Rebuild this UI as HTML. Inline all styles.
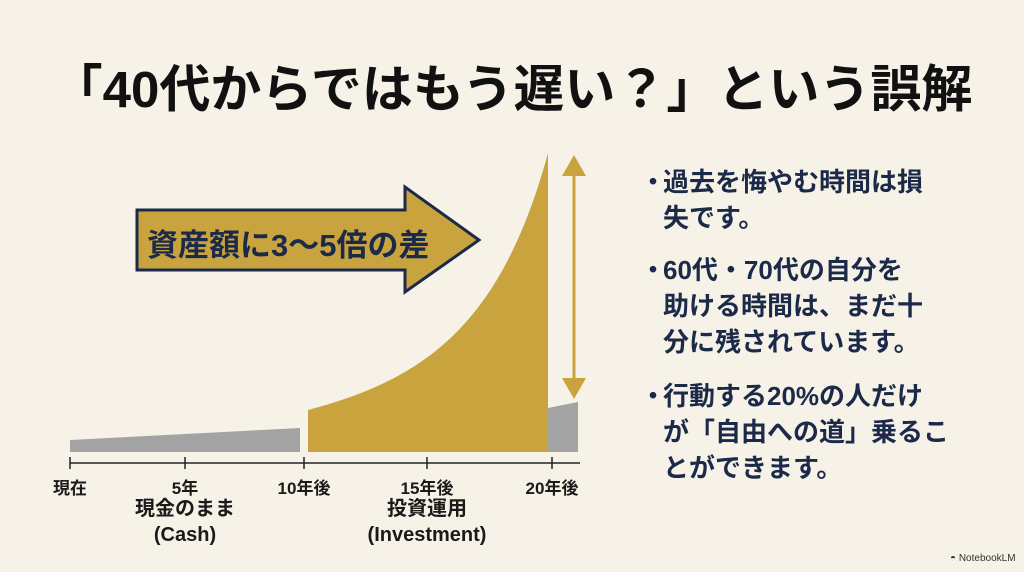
<!DOCTYPE html>
<html><head><meta charset="utf-8"><style>
body{margin:0;width:1024px;height:572px;background:#f6f2e7;overflow:hidden;font-family:"Liberation Sans","Noto Sans CJK JP",sans-serif;position:relative}
.t{position:absolute;white-space:nowrap}
#title{left:0;width:1024px;text-align:center;top:48px;font-size:51px;font-weight:bold;color:#111}
.lbl{font-size:17px;font-weight:bold;color:#1a1a1a;transform:translateX(-50%)}
.b{position:absolute;left:640px;font-size:26px;font-weight:bold;color:#1c2a4a;line-height:36px}
.b span{display:inline-block;width:23px}
</style></head><body>
<div class="t" id="title">「40代からではもう遅い？」という誤解</div>
<svg width="1024" height="572" style="position:absolute;left:0;top:0">
<polygon points="70,440 300,428 300,452 70,452" fill="#a3a3a3"/>
<path d="M308,410 C420,380 500,330 548,153 L548,452 L308,452 Z" fill="#c9a43e"/>
<polygon points="548,408 578,402 578,452 548,452" fill="#a3a3a3"/>
<line x1="70" y1="463" x2="580" y2="463" stroke="#222" stroke-width="1.5"/>
<g stroke="#222" stroke-width="1.5"><line x1="70" y1="457" x2="70" y2="469"/><line x1="185" y1="457" x2="185" y2="469"/><line x1="304" y1="457" x2="304" y2="469"/><line x1="427" y1="457" x2="427" y2="469"/><line x1="552" y1="457" x2="552" y2="469"/></g>
<line x1="574" y1="170" x2="574" y2="384" stroke="#c9a43e" stroke-width="3"/>
<polygon points="562,176 586,176 574,155" fill="#c9a43e"/>
<polygon points="562,378 586,378 574,399" fill="#c9a43e"/>
<polygon points="137,210 405,210 405,187 479,240 405,292 405,270 137,270" fill="#c9a43e" stroke="#1c2a4a" stroke-width="3" stroke-linejoin="miter"/>
</svg>
<div class="t" style="left:147px;top:220px;font-size:31px;font-weight:bold;color:#1c2a4a">資産額に3〜5倍の差</div>
<div class="t lbl" style="left:70px;top:474px">現在</div>
<div class="t lbl" style="left:185px;top:474px">5年</div>
<div class="t lbl" style="left:304px;top:474px">10年後</div>
<div class="t lbl" style="left:427px;top:474px">15年後</div>
<div class="t lbl" style="left:552px;top:474px">20年後</div>
<div class="t lbl" style="left:185px;top:496px;font-size:20px;text-align:center;line-height:26px">現金のまま<br>(Cash)</div>
<div class="t lbl" style="left:427px;top:496px;font-size:20px;text-align:center;line-height:26px">投資運用<br>(Investment)</div>
<div class="b" style="top:164px"><span>・</span>過去を悔やむ時間は損<br><span></span>失です。</div>
<div class="b" style="top:252px"><span>・</span>60代・70代の自分を<br><span></span>助ける時間は、まだ十<br><span></span>分に残されています。</div>
<div class="b" style="top:378px"><span>・</span>行動する20%の人だけ<br><span></span>が「自由への道」乗るこ<br><span></span>とができます。</div>
<div class="t" style="left:950px;top:553px;font-size:10px;color:#333">◓ NotebookLM</div>
</body></html>
